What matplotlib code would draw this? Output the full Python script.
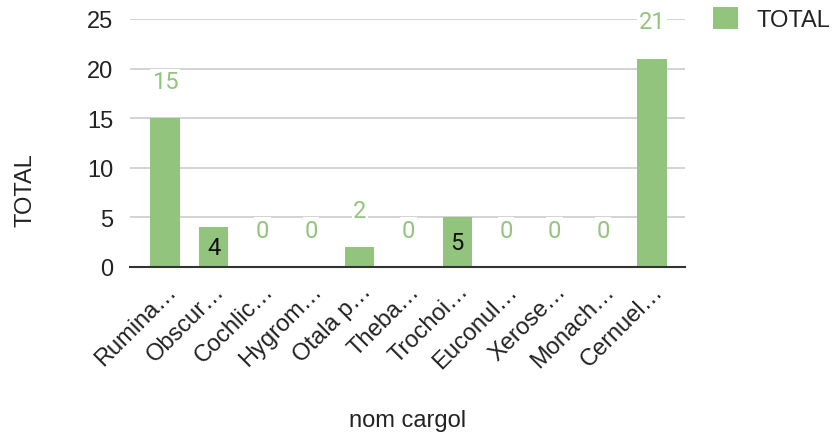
import matplotlib
matplotlib.use("Agg")
import matplotlib.pyplot as plt
from matplotlib.patches import Patch

# data
categories = ["Rumina…", "Obscur…", "Cochlic…", "Hygrom…", "Otala p…", "Theba…",
              "Trochoi…", "Euconul…", "Xerose…", "Monach…", "Cernuel…"]
totals = [15, 4, 0, 0, 2, 0, 5, 0, 0, 0, 21]
inside_label = [False, True, False, False, False, False, True, False, False, False, False]
y_ticks = [0, 5, 10, 15, 20, 25]

green = "#93c47d"
text_col = "#222222"
plt.rcParams["font.family"] = ["Liberation Sans", "DejaVu Sans"]

fig = plt.figure(figsize=(8.36, 4.39), dpi=100)
ax = fig.add_axes([130 / 836, 1 - 268 / 439, 555 / 836, 248 / 439])

x = list(range(len(categories)))
ax.bar(x, totals, width=0.6, color=green, zorder=3)

# value labels: inside the bar for some, above for the rest
for xi, v, inside in zip(x, totals, inside_label):
    if inside:
        ax.text(xi, v / 2, str(v), ha="center", va="center", fontsize=17,
                color="#111111", family="Roboto", zorder=4)
    else:
        ax.text(xi, v + 3.7, str(v), ha="center", va="center", fontsize=17,
                color=green, family="Roboto", zorder=4,
                bbox=dict(facecolor="white", edgecolor="none", pad=1))

ax.set_xlim(-0.72, 10.68)
ax.set_ylim(0, 25)
ax.set_yticks(y_ticks)
ax.set_xticks(x)
ax.set_xticklabels(categories, rotation=45, ha="right", rotation_mode="anchor",
                   fontsize=17, color=text_col)
ax.tick_params(axis="y", labelsize=17, labelcolor=text_col, length=0, pad=12)
ax.tick_params(axis="x", length=0, pad=9)
ax.grid(axis="y", color="#cccccc", linewidth=1.2, zorder=0)
for side in ["top", "right", "left"]:
    ax.spines[side].set_visible(False)
ax.spines["bottom"].set_color("#333333")
ax.spines["bottom"].set_linewidth(1.5)
ax.spines["bottom"].set_zorder(5)

fig.text(25 / 836, 1 - 190 / 439, "TOTAL", rotation=90, ha="center", va="center",
         fontsize=17, color=text_col)
fig.text(408 / 836, 1 - 421 / 439, "nom cargol", ha="center", va="center",
         fontsize=17, color=text_col)

fig.legend(handles=[Patch(facecolor=green, edgecolor="none")], labels=["TOTAL"],
           loc="center left", bbox_to_anchor=(713 / 836, 1 - 20 / 439), frameon=False,
           fontsize=17, handlelength=1.05, handleheight=1.05, handletextpad=0.8,
           borderpad=0, borderaxespad=0, labelcolor=text_col)

fig.savefig("out.png", dpi=100)
